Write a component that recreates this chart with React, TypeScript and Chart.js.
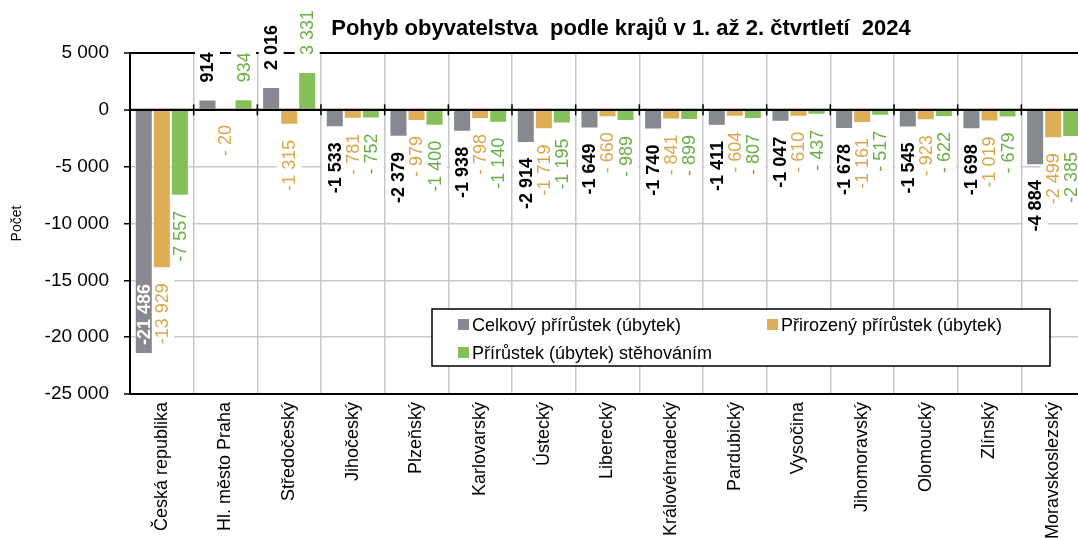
import React, { useEffect, useRef } from "react";
import { Chart, registerables } from "chart.js";

Chart.register(...registerables);

const categories = [
  "Česká republika",
  "Hl. město Praha",
  "Středočeský",
  "Jihočeský",
  "Plzeňský",
  "Karlovarský",
  "Ústecký",
  "Liberecký",
  "Královéhradecký",
  "Pardubický",
  "Vysočina",
  "Jihomoravský",
  "Olomoucký",
  "Zlínský",
  "Moravskoslezský",
];

const celkovy = [-21486, 914, 2016, -1533, -2379, -1938, -2914, -1649, -1740, -1411, -1047, -1678, -1545, -1698, -4884];
const prirozeny = [-13929, -20, -1315, -781, -979, -798, -1719, -660, -841, -604, -610, -1161, -923, -1019, -2499];
const stehovanim = [-7557, 934, 3331, -752, -1400, -1140, -1195, -989, -899, -807, -437, -517, -622, -679, -2385];

const seriesLabels = [
  "Celkový přírůstek (úbytek)",
  "Přirozený přírůstek (úbytek)",
  "Přírůstek (úbytek) stěhováním",
];

const titleText = "Pohyb obyvatelstva  podle krajů v 1. až 2. čtvrtletí  2024";
const yAxisTitle = "Počet";
const yMin = -25000;
const yMax = 5000;
const yStep = 5000;

const barColors = ["#86898E", "#DDAE55", "#86C05B"];
const labelColors = ["#000000", "#DBA64A", "#6AAE45"];

const FONT = "'Liberation Sans', Arial, sans-serif";

function group(a: number): string {
  return String(a).replace(/\B(?=(\d{3})+(?!\d))/g, " ");
}
function fmtTick(v: number): string {
  return (v < 0 ? "-" : "") + group(Math.abs(v));
}
function fmtLabel(v: number): string {
  const a = Math.abs(v);
  const s = group(a);
  if (v < 0) return a < 1000 ? "- " + s : "-" + s;
  return s;
}

type Lbl = { x: number; cy: number; w: number; text: string; color: string; font: string; inside: boolean };

function computeLabels(chart: any): Lbl[] {
  const ctx = chart.ctx;
  const area = chart.chartArea;
  const out: Lbl[] = [];
  chart.data.datasets.forEach((ds: any, di: number) => {
    const meta = chart.getDatasetMeta(di);
    const font = (di === 0 ? "bold " : "") + "18px " + FONT;
    meta.data.forEach((bar: any, i: number) => {
      const v = ds.data[i] as number;
      const { x, y } = bar.getProps(["x", "y"], true);
      const text = fmtLabel(v);
      ctx.save();
      ctx.font = font;
      const w = ctx.measureText(text).width;
      ctx.restore();
      let cy: number;
      let color = labelColors[di];
      let inside = false;
      if (v < 0) {
        const start = y + 15;
        if (start + w > area.bottom) {
          cy = y - 9 - w / 2;
          color = "#ffffff";
          inside = true;
        } else {
          cy = start + w / 2;
        }
      } else {
        cy = y - 17 - w / 2;
      }
      out.push({ x, cy, w, text, color, font, inside });
    });
  });
  return out;
}

const labelPlugin = {
  id: "barLabels",
  beforeDatasetsDraw(chart: any) {
    const ctx = chart.ctx;
    const labels = computeLabels(chart);
    ctx.save();
    ctx.fillStyle = "#ffffff";
    labels.forEach((l) => {
      if (l.inside) return;
      const halfAcross = 6.5 + 6;
      const halfAlong = l.w / 2 + 5;
      ctx.fillRect(l.x - halfAcross, l.cy - halfAlong, halfAcross * 2, halfAlong * 2);
    });
    ctx.restore();
  },
  afterDatasetsDraw(chart: any) {
    const ctx = chart.ctx;
    const area = chart.chartArea;
    const yScale = chart.scales.y;
    const xScale = chart.scales.x;
    const y0 = yScale.getPixelForValue(0);
    ctx.save();
    ctx.strokeStyle = "#000";
    ctx.lineWidth = 2;
    ctx.beginPath();
    ctx.moveTo(area.left, y0);
    ctx.lineTo(area.right, y0);
    ctx.stroke();
    ctx.lineWidth = 1.5;
    const n = chart.data.labels.length;
    const step = (area.right - area.left) / n;
    for (let i = 1; i < n; i++) {
      const bx = xScale.getPixelForValue(i) - step / 2;
      ctx.beginPath();
      ctx.moveTo(bx, y0 - 5.5);
      ctx.lineTo(bx, y0 + 5.5);
      ctx.stroke();
    }
    ctx.restore();

    const labels = computeLabels(chart);
    labels.forEach((l) => {
      ctx.save();
      ctx.translate(l.x, l.cy);
      ctx.rotate(-Math.PI / 2);
      ctx.font = l.font;
      ctx.fillStyle = l.color;
      ctx.textAlign = "center";
      ctx.textBaseline = "middle";
      ctx.fillText(l.text, 0, 1);
      ctx.restore();
    });
  },
};

const decorPlugin = {
  id: "decor",
  afterDraw(chart: any) {
    const ctx = chart.ctx;
    // title
    ctx.save();
    ctx.font = "bold 22px " + FONT;
    ctx.fillStyle = "#000";
    ctx.textAlign = "center";
    ctx.textBaseline = "middle";
    ctx.fillText(titleText, 621, 29);
    ctx.restore();

    // legend
    const bx = 432, by = 309, bw = 618, bh = 57;
    ctx.save();
    ctx.fillStyle = "#fff";
    ctx.fillRect(bx, by, bw, bh);
    ctx.strokeStyle = "#000";
    ctx.lineWidth = 1.5;
    ctx.strokeRect(bx, by, bw, bh);
    const pos = [
      [bx + 26, by + 16],
      [bx + 335, by + 16],
      [bx + 26, by + 44],
    ];
    ctx.font = "18px " + FONT;
    ctx.textBaseline = "middle";
    ctx.textAlign = "left";
    chart.data.datasets.forEach((ds: any, i: number) => {
      const [px, py] = pos[i];
      ctx.fillStyle = ds.backgroundColor;
      ctx.fillRect(px, py - 6, 11, 11);
      ctx.fillStyle = "#000";
      ctx.fillText(ds.label, px + 14, py + 1);
    });
    ctx.restore();
  },
};

export default function App() {
  const ref = useRef<HTMLCanvasElement>(null);

  useEffect(() => {
    if (!ref.current) return;
    const edge = (v: number) => v === 0 || v === yMax || v === yMin;
    const chart = new Chart(ref.current, {
      type: "bar",
      data: {
        labels: categories,
        datasets: [celkovy, prirozeny, stehovanim].map((d, i) => ({
          label: seriesLabels[i],
          data: d,
          backgroundColor: barColors[i],
          borderColor: "rgba(255,255,255,0.55)",
          borderWidth: 1,
          categoryPercentage: 0.85,
          barPercentage: 1,
        })),
      },
      options: {
        responsive: false,
        animation: false,
        devicePixelRatio: 1,
        layout: { padding: { top: 53, right: 15, left: 0, bottom: 0 } },
        plugins: {
          legend: { display: false },
          title: { display: false },
          tooltip: { enabled: false },
        },
        scales: {
          x: {
            grid: { color: "#c8c8c8", lineWidth: 1.5, drawTicks: false, offset: true },
            border: { display: true, color: "#000", width: 2 },
            ticks: {
              autoSkip: false,
              maxRotation: 90,
              minRotation: 90,
              padding: 8,
              color: "#000",
              font: { family: FONT, size: 18 },
            },
            afterFit: (s: any) => {
              s.height = 144;
            },
          },
          y: {
            min: yMin,
            max: yMax,
            ticks: {
              stepSize: yStep,
              color: "#000",
              padding: 15,
              font: { family: FONT, size: 19 },
              callback: (v: any) => fmtTick(Number(v)),
            },
            grid: {
              color: (c: any) => (c.tick && edge(c.tick.value) ? "#000" : "#c8c8c8"),
              lineWidth: (c: any) => (c.tick && edge(c.tick.value) ? 2 : 1.5),
              tickColor: "#000",
              tickLength: 6,
              tickWidth: 1.5,
            },
            border: { display: true, color: "#000", width: 2 },
            title: {
              display: true,
              text: yAxisTitle,
              color: "#000",
              font: { family: FONT, size: 14 },
              padding: { top: 9, bottom: 0 },
            },
            afterFit: (s: any) => {
              s.width = 130;
            },
          },
        },
      },
      plugins: [labelPlugin, decorPlugin],
    });
    return () => chart.destroy();
  }, []);

  return (
    <div
      style={{
        position: "fixed",
        left: 0,
        top: 0,
        width: 1078,
        height: 538,
        overflow: "hidden",
        background: "#fff",
      }}
    >
      <canvas ref={ref} width={1100} height={538} style={{ width: 1100, height: 538, display: "block" }} />
    </div>
  );
}
